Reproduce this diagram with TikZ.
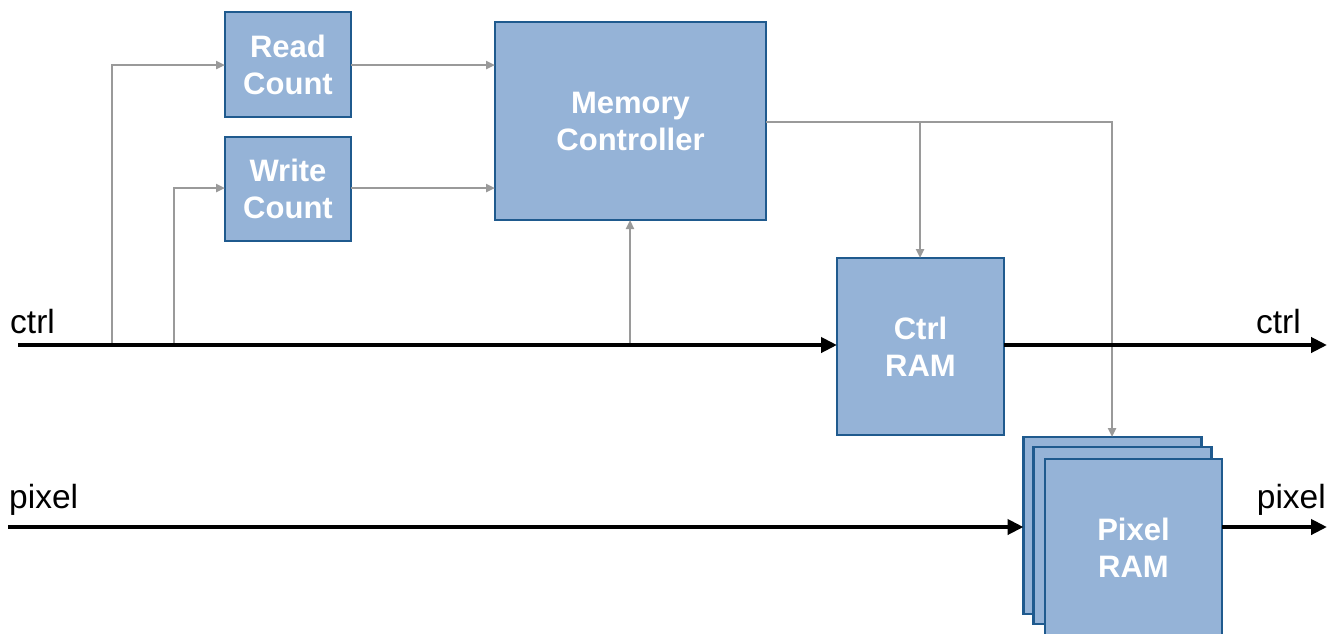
\documentclass[tikz,border=0pt]{standalone}
\usepackage{fontspec}
\setmainfont{Liberation Sans}
\usetikzlibrary{arrows.meta}
\definecolor{boxfill}{HTML}{95B3D7}
\definecolor{boxline}{HTML}{1F5A8E}
\definecolor{sig}{HTML}{9A9A9A}
\tikzset{
  blk/.style={draw=boxline, line width=2.8pt, fill=boxfill, inner sep=0pt, outer sep=0pt,
    font=\fontsize{31}{37}\selectfont\bfseries, text=white, align=center},
  bus/.style={line width=4.5pt, -{Triangle[length=16pt,width=15pt]}},
  ctl/.style={draw=sig, line width=2.8pt, -{Triangle[length=9pt,width=8pt]}},
  lbl/.style={font=\fontsize{33.5}{40}\selectfont, inner sep=0pt},
}
\begin{document}
\begin{tikzpicture}[x=1pt,y=-1pt]
\useasboundingbox (0,0) rectangle (1333,633);
% blocks
\node[blk, minimum width=126pt, minimum height=105pt] (rc) at (288,64.5) {Read\\Count};
\node[blk, minimum width=126pt, minimum height=104pt] (wc) at (288,189) {Write\\Count};
\node[blk, minimum width=271pt, minimum height=198pt] (mc) at (630.5,121) {Memory\\Controller};
\node[blk, minimum width=167pt, minimum height=177pt] (cr) at (920.5,346.5) {Ctrl\\RAM};
\node[blk, minimum width=178pt, minimum height=177pt] (pr3) at (1112.5,525.5) {};
\node[blk, minimum width=178pt, minimum height=177pt] (pr2) at (1122.5,535.5) {};
\node[blk, minimum width=177pt, minimum height=177pt] (pr) at (1133.5,547.5) {Pixel\\RAM};
% coordinates
\coordinate (cin) at (18,345);
\coordinate (cout) at (1327,345);
\coordinate (pin) at (8,527);
\coordinate (pout) at (1327,527);
\coordinate (t1) at (112,345);
\coordinate (t2) at (174,345);
\coordinate (t3) at (630,345);
\coordinate (b1) at (920,122);
% labels
\node[lbl, anchor=base west] (lc1) at (10,333) {ctrl};
\node[lbl, anchor=base east] (lc2) at (1301,333) {ctrl};
\node[lbl, anchor=base west] (lp1) at (9,508) {pixel};
\node[lbl, anchor=base east] (lp2) at (1326,508) {pixel};
% gray control lines
\draw[ctl] (t1) |- (rc.west|-0,65);
\draw[ctl] (t2) |- (wc.west|-0,188);
\draw[ctl] (rc.east|-0,65) -- (mc.west|-0,65);
\draw[ctl] (wc.east|-0,188) -- (mc.west|-0,188);
\draw[ctl] (t3) -- (mc.south-|t3);
\draw[ctl] (mc.east|-b1) -| (pr3.north-|1112,0);
\draw[ctl] (b1) -- (cr.north-|b1);
% black buses
\draw[bus] (cin) -- (cr.west|-cin);
\draw[bus] (cr.east|-cout) -- (cout);
\draw[bus] (pin) -- (pr3.west|-pin);
\draw[bus] (pr.east|-pout) -- (pout);
\end{tikzpicture}
\end{document}
